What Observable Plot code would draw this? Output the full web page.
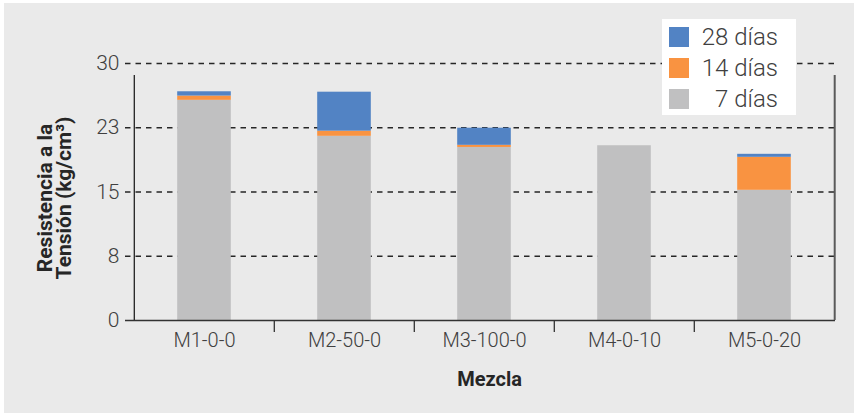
<!DOCTYPE html>
<html><head><meta charset="utf-8">
<script src="https://cdn.jsdelivr.net/npm/d3@7"></script>
<script src="https://cdn.jsdelivr.net/npm/@observablehq/plot@0.6"></script>
<style>
body{margin:0;background:#fff;font-family:Roboto,"Noto Sans",sans-serif;}
#wrap{position:relative;width:854px;height:413px;padding:3px 0 0 4px;box-sizing:border-box;}
#legend{position:absolute;left:662px;top:19px;width:134px;height:96px;background:#fff;}
.item{position:absolute;left:7px;width:120px;height:20px;}
.sw{position:absolute;left:0;top:0;width:20px;height:20px;}
.lab{position:absolute;right:11px;top:0;font-size:24px;font-weight:300;color:#404040;line-height:20px;white-space:pre;}
</style>
</head><body>
<div id="wrap"><div id="legend"></div></div>
<script>
const mezclas = ["M1-0-0", "M2-50-0", "M3-100-0", "M4-0-10", "M5-0-20"];
const series = ["7 días", "14 días", "28 días"];
const dias7 = [25.7, 21.5, 20.2, 20.4, 15.2];
const dias14 = [0.5, 0.6, 0.25, 0, 3.85];
const dias28 = [0.5, 4.55, 2.0, 0, 0.35];
const colors = ["#c0c0c1", "#f99341", "#5283c4"];
const yTicks = [0, 7.5, 15, 22.5, 30];
const yTitle = "Resistencia a la\nTensión (kg/cm³)";
const xTitle = "Mezcla";

const data = [];
[dias7, dias14, dias28].forEach((vals, s) => {
  mezclas.forEach((m, i) => data.push({mezcla: m, serie: series[s], valor: vals[i]}));
});

const font = "Roboto, 'Noto Sans', sans-serif";
const ink = "#404040";

const chart = Plot.plot({
  width: 850,
  height: 410,
  marginLeft: 129,
  marginRight: 19,
  marginTop: 60,
  marginBottom: 93,
  style: {background: "#eaeaea", fontFamily: font, color: ink, overflow: "visible"},
  x: {type: "band", domain: mezclas, padding: 0},
  y: {domain: [0, 30]},
  color: {domain: series, range: colors},
  marks: [
    Plot.ruleY(yTicks.filter(d => d > 0), {stroke: "#262626", strokeWidth: 1.5, strokeDasharray: "5.5,5", insetLeft: -8}),
    Plot.barY(data, {x: "mezcla", y: "valor", fill: "serie", order: series, insetLeft: 43.2, insetRight: 43.2}),
    // x axis baseline
    Plot.ruleY([0], {stroke: "#333", strokeWidth: 1.4, insetLeft: -8}),
    // left axis line and right border line
    Plot.ruleX([mezclas[0]], {dx: -70.2, y1: 0, y2: 30, stroke: "#222", strokeWidth: 1.3, insetBottom: -12}),
    Plot.ruleX([mezclas[mezclas.length - 1]], {dx: 70.2, y1: 0, y2: 30, stroke: "#5a5a5a", strokeWidth: 2, insetBottom: -12}),
    // category boundary ticks
    Plot.ruleX(mezclas.slice(1), {dx: -70.2, y1: 0, y2: 0, stroke: "#333", strokeWidth: 1.3, insetBottom: -12}),
    Plot.axisX({tickSize: 0, tickPadding: 12, fontSize: 20, fontWeight: 300, fill: ink, label: null}),
    Plot.axisY({ticks: yTicks, tickSize: 0, tickPadding: 14, tickFormat: d3.format(".0f"), fontSize: 21, fontWeight: 300, fill: ink, label: null}),
    Plot.text([yTitle], {frameAnchor: "left", textAnchor: "middle", rotate: -90, dx: -78, dy: 6, fontSize: 21, fontWeight: 700, fill: "#262626", lineHeight: 0.92}),
    Plot.text([xTitle], {frameAnchor: "bottom", dx: 5, dy: 65, fontSize: 20, fontWeight: 700, fill: "#262626"})
  ]
});
document.getElementById("wrap").prepend(chart);

// legend (top row = 28 días)
const legend = document.getElementById("legend");
const color = chart.scale("color");
[...series].reverse().forEach((s, i) => {
  const item = document.createElement("div");
  item.className = "item";
  item.style.top = (8 + i * 31) + "px";
  const sw = document.createElement("div");
  sw.className = "sw";
  sw.style.background = color.apply(s);
  const lab = document.createElement("div");
  lab.className = "lab";
  lab.textContent = s;
  item.append(sw, lab);
  legend.append(item);
});
</script>
</body></html>
